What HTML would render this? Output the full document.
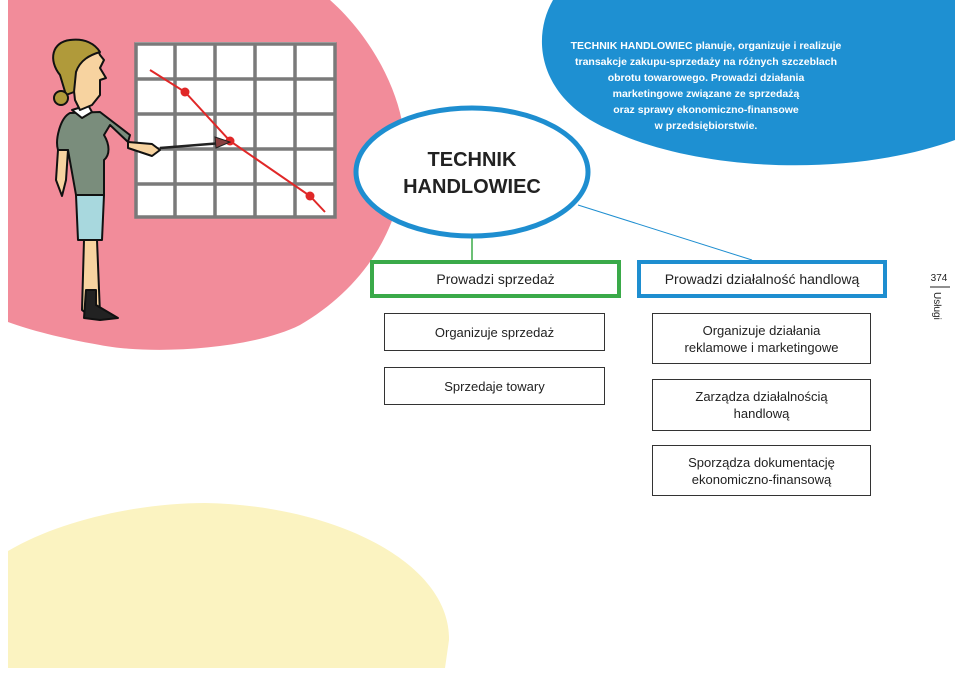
<!DOCTYPE html>
<html><head><meta charset="utf-8"><style>
html,body{margin:0;padding:0;background:#fff;}
body{width:955px;height:674px;position:relative;overflow:hidden;font-family:"Liberation Sans",sans-serif;}
.box{position:absolute;box-sizing:border-box;border:1px solid #333;background:#fff;display:flex;align-items:center;justify-content:center;text-align:center;font-size:13px;line-height:17px;color:#222;}
</style></head><body>
<svg width="955" height="674" style="position:absolute;left:0;top:0">
<path d="M8,0 L330,0 C375,40 405,100 405,150 C405,230 360,290 300,325 C250,350 150,355 100,345 C60,338 30,330 8,322 Z" fill="#f28c9a"/>
<path d="M8,551 C60,520 140,503 205,503 C330,505 450,560 449,640 L445,668 L8,668 Z" fill="#fbf3c1"/>
<path d="M553,0 C530,40 540,100 610,130 C700,172 850,178 955,140 L955,0 Z" fill="#1e90d2"/>
<!-- grid -->
<rect x="135" y="42" width="201" height="176" fill="#fff"/>
<g stroke="#7a7a7a" stroke-width="3.5" fill="none">
<rect x="136" y="44" width="199" height="173"/>
<line x1="175" y1="44" x2="175" y2="217"/><line x1="215" y1="44" x2="215" y2="217"/><line x1="255" y1="44" x2="255" y2="217"/><line x1="295" y1="44" x2="295" y2="217"/>
<line x1="136" y1="79" x2="335" y2="79"/><line x1="136" y1="114" x2="335" y2="114"/><line x1="136" y1="149" x2="335" y2="149"/><line x1="136" y1="184" x2="335" y2="184"/>
</g>
<polyline points="150,70 185,92 230,141 310,196 325,212" fill="none" stroke="#e02828" stroke-width="2"/>
<circle cx="185" cy="92" r="4.5" fill="#e02828"/><circle cx="230" cy="141" r="4.5" fill="#e02828"/><circle cx="310" cy="196" r="4.5" fill="#e02828"/>
<line x1="160" y1="148" x2="222" y2="143" stroke="#222" stroke-width="2.5"/>
<polygon points="215,137 230,142 216,148" fill="#8a4040" stroke="#222" stroke-width="1"/>
<!-- woman -->
<g stroke="#111" stroke-width="2" stroke-linejoin="round">
<path d="M84,240 L82,310 L92,318 L100,314 L97,240 Z" fill="#f7d3a0"/>
<path d="M86,290 L84,318 L100,320 L118,318 L96,305 L96,290 Z" fill="#222"/>
<path d="M76,195 L104,195 L102,240 L78,240 Z" fill="#a8d8de"/>
<path d="M70,113 C60,118 55,140 58,150 L68,150 L76,195 L104,195 L104,160 C110,155 110,145 104,135 L110,125 L128,142 L130,135 L100,112 Z" fill="#7a8d7c"/>
<path d="M58,150 L56,180 L62,196 L66,180 L68,150 Z" fill="#f7d3a0"/>
<path d="M128,142 L152,144 L160,150 L152,156 L128,148 Z" fill="#f7d3a0"/>
<path d="M72,110 L82,118 L92,112 L88,105 Z" fill="#fff"/>
<path d="M70,55 C72,42 95,40 100,55 L104,60 L100,68 L106,78 L100,80 L100,95 L92,105 L80,110 L75,100 Z" fill="#f7d3a0"/>
<path d="M60,75 C48,60 52,42 70,40 C85,38 95,44 100,52 C90,55 80,60 76,72 L74,92 L66,95 Z" fill="#b09a3a"/>
<circle cx="61" cy="98" r="7" fill="#b09a3a"/>
</g>
<!-- ellipse and connectors -->
<line x1="472" y1="238" x2="472" y2="260" stroke="#3aaa49" stroke-width="1.5"/>
<line x1="578" y1="205" x2="752" y2="260" stroke="#1e8ed0" stroke-width="1"/>
<ellipse cx="472" cy="172" rx="116" ry="64" fill="#fff" stroke="#1e8ed0" stroke-width="5"/>
<text x="472" y="166" text-anchor="middle" font-size="20" font-weight="bold" fill="#222">TECHNIK</text>
<text x="472" y="193" text-anchor="middle" font-size="20" font-weight="bold" fill="#222">HANDLOWIEC</text>
<g font-size="10.5" font-weight="bold" fill="#fff" text-anchor="middle">
<text x="706" y="49">TECHNIK HANDLOWIEC planuje, organizuje i realizuje</text>
<text x="706" y="65">transakcje zakupu-sprzedaży na różnych szczeblach</text>
<text x="706" y="81">obrotu towarowego. Prowadzi działania</text>
<text x="706" y="97">marketingowe związane ze sprzedażą</text>
<text x="706" y="113">oraz sprawy ekonomiczno-finansowe</text>
<text x="706" y="129">w przedsiębiorstwie.</text>
</g>
<text x="939" y="281" text-anchor="middle" font-size="10" fill="#222">374</text>
<line x1="930" y1="287" x2="950" y2="287" stroke="#222" stroke-width="1"/>
<text x="0" y="0" font-size="10" fill="#222" transform="translate(934,292) rotate(90)">Usługi</text>
</svg>
<div class="box" style="left:370px;top:260px;width:251px;height:38px;border:4px solid #3aaa49;font-size:14px">Prowadzi sprzedaż</div>
<div class="box" style="left:637px;top:260px;width:250px;height:38px;border:4px solid #1e8ed0;font-size:14px">Prowadzi działalność handlową</div>
<div class="box" style="left:384px;top:313px;width:221px;height:38px">Organizuje sprzedaż</div>
<div class="box" style="left:384px;top:367px;width:221px;height:38px">Sprzedaje towary</div>
<div class="box" style="left:652px;top:313px;width:219px;height:51px">Organizuje działania<br>reklamowe i marketingowe</div>
<div class="box" style="left:652px;top:379px;width:219px;height:52px">Zarządza działalnością<br>handlową</div>
<div class="box" style="left:652px;top:445px;width:219px;height:51px">Sporządza dokumentację<br>ekonomiczno-finansową</div>
</body></html>
